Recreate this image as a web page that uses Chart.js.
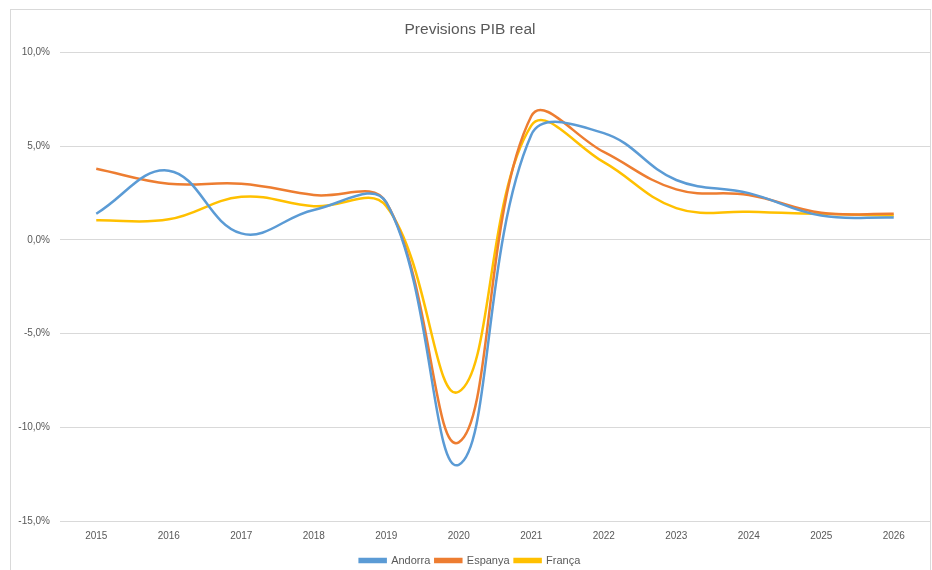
<!DOCTYPE html>
<html>
<head>
<meta charset="utf-8">
<script src="https://cdn.jsdelivr.net/npm/chart.js@4/dist/chart.umd.min.js"></script>
<style>
  html, body { margin:0; padding:0; background:#fff; overflow:hidden; }
  #wrap { position:relative; width:932px; height:570px; }
  #frame { position:absolute; left:10px; top:9px; right:1px; bottom:-2px; border:1px solid #d9d9d9; }
  canvas { position:absolute; left:0; top:0; }
</style>
</head>
<body>
<div id="wrap">
  <div id="frame"></div>
  <canvas id="pibChart" width="932" height="570"></canvas>
</div>
<script>
/* ── Data ───────────────────────────────────────── */
const years   = ['2015','2016','2017','2018','2019','2020','2021','2022','2023','2024','2025','2026'];
const andorra = [1.4, 3.7, 0.35, 1.6, 2.0, -12.0, 5.6, 5.7, 3.2, 2.5, 1.3, 1.2];
const espanya = [3.8, 3.0, 3.0, 2.4, 2.0, -10.8, 6.6, 4.7, 2.7, 2.4, 1.45, 1.4];
const franca  = [1.05, 1.1, 2.3, 1.8, 1.8, -8.1, 6.1, 4.15, 1.7, 1.5, 1.4, 1.3];

const FONT = "'Liberation Sans Narrow', 'Liberation Sans', Arial, sans-serif";
const GREY = '#595959';

function series(label, data, color) {
  return {
    label, data,
    borderColor: color, backgroundColor: color,
    borderWidth: 2.5, pointRadius: 0, pointHoverRadius: 0,
    tension: 0.4, fill: false
  };
}

new Chart(document.getElementById('pibChart'), {
  type: 'line',
  data: {
    labels: years,
    datasets: [
      series('Andorra', andorra, '#5B9BD5'),
      series('Espanya', espanya, '#ED7D31'),
      series('França',  franca,  '#FFC000')
    ]
  },
  options: {
    responsive: false,
    animation: false,
    events: [],
    layout: { padding: { left: 10, right: 2, top: 16, bottom: -6 } },
    plugins: {
      title: {
        display: true, text: 'Previsions PIB real', color: GREY,
        font: { family: FONT, size: 15.5, weight: 'normal' },
        padding: { top: 4, bottom: 14 }
      },
      legend: {
        position: 'bottom',
        labels: {
          color: GREY, font: { family: FONT, size: 11 },
          boxWidth: 26, boxHeight: 3, padding: 5
        }
      },
      tooltip: { enabled: false }
    },
    scales: {
      x: {
        offset: true,
        afterFit: s => { s.height = 29; },
        grid: { display: false, drawTicks: false },
        border: { display: false },
        ticks: { color: GREY, font: { family: FONT, size: 10 }, padding: 9, maxRotation: 0 }
      },
      y: {
        min: -15, max: 10,
        afterFit: s => { s.width = 50; },
        grid: { color: '#d9d9d9', lineWidth: 1, drawTicks: false },
        border: { display: false },
        ticks: {
          stepSize: 5, color: GREY, padding: 10,
          font: { family: FONT, size: 10 },
          callback: v => v.toFixed(1).replace('.', ',') + '%'
        }
      }
    }
  }
});
</script>
</body>
</html>
